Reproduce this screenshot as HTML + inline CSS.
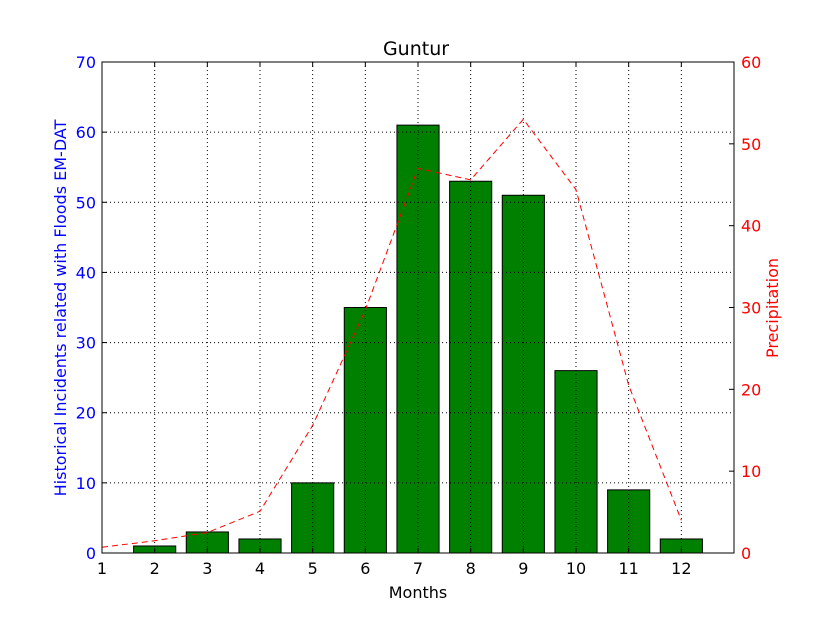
<!DOCTYPE html>
<html><head><meta charset="utf-8"><style>
body{margin:0;background:#fff;}
svg text{font-family:"DejaVu Sans","Liberation Sans",sans-serif;}
</style></head><body>
<svg id="chart" width="815" height="615">
<rect width="815" height="615" fill="#fff"/>
<g id="bars"></g><g id="grid"></g><g id="line"></g><g id="axes"></g>
</svg>
<script>
const months=[1,2,3,4,5,6,7,8,9,10,11,12];
const incidents=[0,1,3,2,10,35,61,53,51,26,9,2];
const precipitation=[0.7,1.5,2.5,5.1,15.6,29.7,47,45.6,53,44.4,20.5,4];
const xTicks=[1,2,3,4,5,6,7,8,9,10,11,12];
const leftTicks=[0,10,20,30,40,50,60,70];
const rightTicks=[0,10,20,30,40,50,60];
const L=102,R=734,T=62,B=553;
const NS='http://www.w3.org/2000/svg';
function X(v){return L+(v-1)*(R-L)/12;}
function YL(v){return B-v*(B-T)/70;}
function YR(v){return B-v*(B-T)/60;}
function mk(tag,attrs,parent,txt){const e=document.createElementNS(NS,tag);for(const k in attrs)e.setAttribute(k,attrs[k]);if(txt!==undefined)e.textContent=txt;document.getElementById(parent).appendChild(e);return e;}
const defs=document.createElementNS(NS,'defs');defs.innerHTML='<clipPath id="pc"><rect x="102" y="62" width="632" height="491"/></clipPath>';document.getElementById('chart').prepend(defs);
document.getElementById('bars').setAttribute('clip-path','url(#pc)');
months.forEach((m,i)=>{
  const b=mk('rect',{x:X(m-0.4),y:YL(incidents[i]),width:X(m+0.4)-X(m-0.4),height:B-YL(incidents[i]),fill:'#008000',stroke:'#000','stroke-width':1},'bars');
  
  
});
xTicks.forEach(t=>{if(t>1){const g=mk('line',{x1:X(t),x2:X(t),y1:T,y2:B,stroke:'#000','stroke-dasharray':'1,3','stroke-width':1},'grid');}});
leftTicks.forEach(t=>{if(t>0&&t<70){const g=mk('line',{x1:L,x2:R,y1:YL(t),y2:YL(t),stroke:'#000','stroke-dasharray':'1,3','stroke-width':1},'grid');}});
const pts=months.map((m,i)=>X(m)+','+YR(precipitation[i])).join(' ');
const pl=mk('polyline',{points:pts,fill:'none',stroke:'#ff0000','stroke-width':1,'stroke-dasharray':'6,4'},'line');


const fr=mk('rect',{x:L,y:T,width:R-L,height:B-T,fill:'none',stroke:'#000','stroke-width':1},'axes');


xTicks.forEach(t=>{
  mk('line',{x1:X(t),x2:X(t),y1:B,y2:B-5,stroke:'#000'},'axes');
  mk('line',{x1:X(t),x2:X(t),y1:T,y2:T+5,stroke:'#000'},'axes');
  const l=mk('text',{x:X(t),y:B+21,'text-anchor':'middle','font-size':16,fill:'#000'},'axes',t);
  
  
});
leftTicks.forEach(t=>{
  mk('line',{x1:L,x2:L+5,y1:YL(t),y2:YL(t),stroke:'#000'},'axes');
  const l=mk('text',{x:L-6,y:YL(t)+6,'text-anchor':'end','font-size':16,fill:'#0000ff'},'axes',t);
  
  
});
rightTicks.forEach(t=>{
  mk('line',{x1:R,x2:R-5,y1:YR(t),y2:YR(t),stroke:'#000'},'axes');
  const l=mk('text',{x:R+7,y:YR(t)+6,'text-anchor':'start','font-size':16,fill:'#ff0000'},'axes',t);
  
  
});
let e;
e=mk('text',{x:416,y:55,'text-anchor':'middle','font-size':19,fill:'#000'},'axes','Guntur');


e=mk('text',{x:418,y:598,'text-anchor':'middle','font-size':16,fill:'#000'},'axes','Months');


e=mk('text',{x:0,y:0,'text-anchor':'middle','font-size':16,fill:'#0000ff',transform:'translate(66,308) rotate(-90)'},'axes','Historical Incidents related with Floods EM-DAT');


e=mk('text',{x:0,y:0,'text-anchor':'middle','font-size':16,fill:'#ff0000',transform:'translate(778,308) rotate(-90)'},'axes','Precipitation');


</script>
</body></html>
